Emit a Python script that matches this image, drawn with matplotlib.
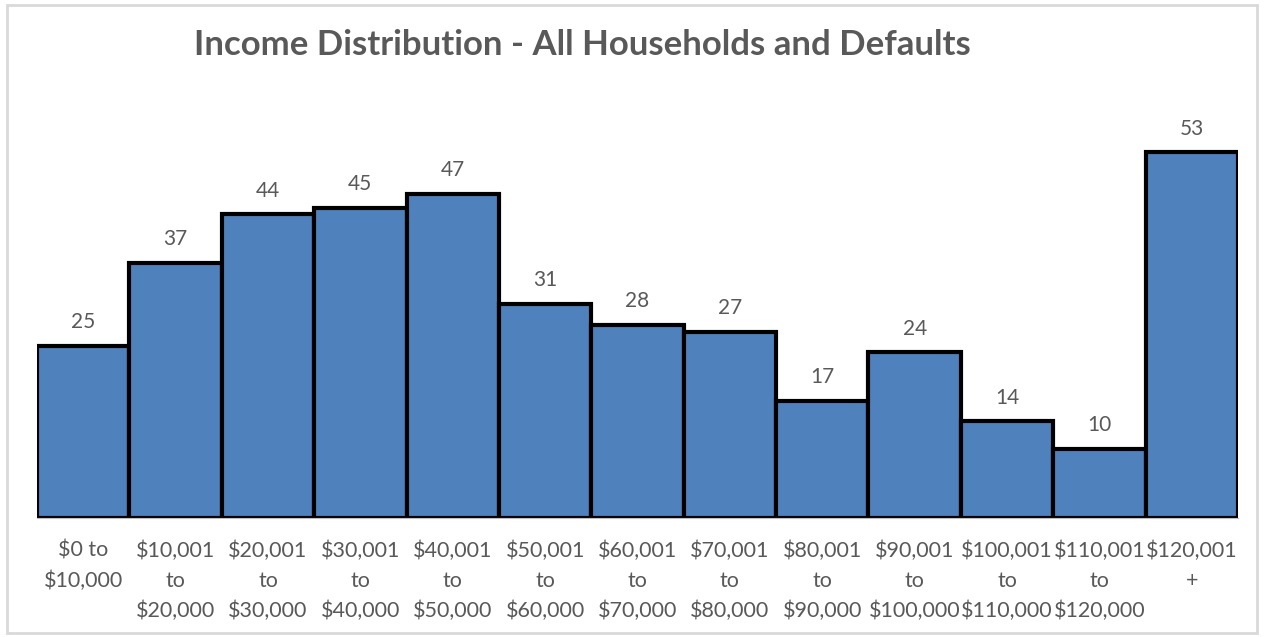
import matplotlib.pyplot as plt
from matplotlib.patches import Rectangle

# income bands and household counts
bands = ["$0 to\n$10,000", "$10,001\nto\n$20,000", "$20,001\nto\n$30,000",
         "$30,001\nto\n$40,000", "$40,001\nto\n$50,000", "$50,001\nto\n$60,000",
         "$60,001\nto\n$70,000", "$70,001\nto\n$80,000", "$80,001\nto\n$90,000",
         "$90,001\nto\n$100,000", "$100,001\nto\n$110,000", "$110,001\nto\n$120,000",
         "$120,001\n+"]
counts = [25, 37, 44, 45, 47, 31, 28, 27, 17, 24, 14, 10, 53]

plt.rcParams['font.family'] = ['Lato', 'DejaVu Sans']

fig = plt.figure(figsize=(12.65, 6.37), dpi=100)
ax = fig.add_axes([37 / 1265, 1 - 518 / 637, (1238 - 37) / 1265, 414 / 637])

x = list(range(len(counts)))
bars = ax.bar(x, counts, width=1.0, color="#4F81BD", edgecolor="black", linewidth=3)
for b, v in zip(bars, counts):
    ax.annotate(str(v), (b.get_x() + b.get_width() / 2, v), xytext=(0, 17),
                textcoords="offset points", ha="center", va="center",
                fontsize=15, color="#595959")

ax.set_xlim(-0.5, len(counts) - 0.5)
ax.set_ylim(0, 60)
ax.set_xticks(x)
ax.set_xticklabels(bands, fontsize=15.5, color="#595959", linespacing=1.62)
ax.tick_params(axis="x", length=0, pad=16)
ax.set_yticks([])
for side in ["left", "right", "top"]:
    ax.spines[side].set_visible(False)
ax.spines["bottom"].set_color("#BFBFBF")

fig.text(0.4605, 1 - 45 / 637, "Income Distribution - All Households and Defaults",
         ha="center", va="center", fontsize=25, fontweight="bold", color="#595959")

# chart frame
fig.patches.append(Rectangle((7 / 1265, 4 / 637), 1250 / 1265, 628 / 637,
                             transform=fig.transFigure, fill=False,
                             edgecolor="#D9D9D9", linewidth=2))

fig.savefig("out.png", dpi=100)
